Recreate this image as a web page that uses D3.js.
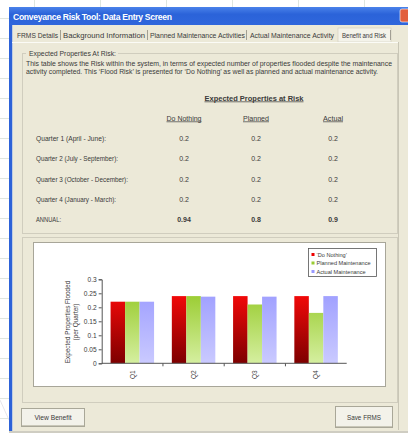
<!DOCTYPE html>
<html><head><meta charset="utf-8">
<script src="https://cdn.jsdelivr.net/npm/d3@7"></script>
<style>
body{margin:0;background:#fff}
svg{display:block}
text{font-family:"Liberation Sans","DejaVu Sans",sans-serif;fill:#3a3a3a}
</style></head>
<body><svg id="c" width="408" height="437"></svg>
<script>
// ---- data ----
const quarters = ["Q1", "Q2", "Q3", "Q4"];
const seriesNames = ["\u2018Do Nothing\u2019", "Planned Maintenance", "Actual Maintenance"];
const doNothing = [0.22, 0.24, 0.24, 0.24];
const plannedMaint = [0.22, 0.24, 0.21, 0.18];
const actualMaint = [0.22, 0.238, 0.238, 0.24];
const yTicks = [0, 0.05, 0.1, 0.15, 0.2, 0.25, 0.3];

const tabLabels = ["FRMS Details", "Background Information", "Planned Maintenance Activities", "Actual Maintenance Activity", "Benefit and Risk"];
const rowLabels = ["Quarter 1 (April - June):", "Quarter 2 (July - September):", "Quarter 3 (October - December):", "Quarter 4 (January - March):", "ANNUAL:"];
const colHeaders = ["Do Nothing", "Planned", "Actual"];
const tableDoNothing = ["0.2", "0.2", "0.2", "0.2", "0.94"];
const tablePlanned = ["0.2", "0.2", "0.2", "0.2", "0.8"];
const tableActual = ["0.2", "0.2", "0.2", "0.2", "0.9"];

const svg = d3.select("#c");
const beige = "#ece9d8";

// ---- spreadsheet behind the dialog ----
const grid = svg.append("g").attr("stroke", "#dfe6df").attr("stroke-width", 1);
[18, 38, 58, 78, 98, 118, 138, 158, 178, 198, 218, 238, 258, 278, 298, 318, 338, 358, 378, 398, 418].forEach(yy =>
  grid.append("line").attr("x1", 0).attr("x2", 9).attr("y1", yy + 0.5).attr("y2", yy + 0.5));
[34, 100, 166, 232, 298, 364].forEach(xx =>
  grid.append("line").attr("x1", xx + 0.5).attr("x2", xx + 0.5).attr("y1", 0).attr("y2", 7));
grid.append("line").attr("x1", 0).attr("x2", 9).attr("y1", 400).attr("y2", 420).attr("stroke", "#e6e6ea");

// ---- window frame ----
const tg = svg.append("defs").append("linearGradient").attr("id", "tb").attr("x1", 0).attr("x2", 0).attr("y1", 0).attr("y2", 1);
tg.append("stop").attr("offset", 0).attr("stop-color", "#4a82ea");
tg.append("stop").attr("offset", 0.4).attr("stop-color", "#2b63d9");
tg.append("stop").attr("offset", 1).attr("stop-color", "#2f66dc");
svg.append("rect").attr("x", 9).attr("y", 7).attr("width", 3.5).attr("height", 426).attr("fill", "#2d62d8");
svg.append("rect").attr("x", 9).attr("y", 7).attr("width", 399).attr("height", 18).attr("fill", "url(#tb)");
svg.append("rect").attr("x", 12.5).attr("y", 25).attr("width", 396).attr("height", 406).attr("fill", beige);
svg.append("rect").attr("x", 9).attr("y", 431).attr("width", 399).attr("height", 2).attr("fill", "#cfcdc2");
svg.append("text").attr("x", 13).attr("y", 19.5).attr("font-size", 8.6).attr("font-weight", "bold")
  .style("fill", "#fff").attr("textLength", 159).text("Conveyance Risk Tool:  Data Entry Screen");
svg.append("rect").attr("x", 400).attr("y", 9).attr("width", 10).attr("height", 13).attr("rx", 2).attr("fill", "#e2603e").attr("stroke", "#fff").attr("stroke-width", 0.6);

// ---- tab strip ----
const tabX = [17, 63, 150, 250, 342];
const tabW = [41, 82, 95, 84, 44];
const sepX = [60.5, 147.5, 246.5, 390.5];
svg.append("rect").attr("x", 338).attr("y", 28).attr("width", 53).attr("height", 14).attr("fill", "#f4f3ea").attr("stroke", "#cfccbd").attr("stroke-width", 0.6);
svg.append("g").selectAll("text").data(tabLabels).join("text")
  .attr("x", (d, i) => tabX[i]).attr("y", 37.5).attr("font-size", 6.6)
  .attr("textLength", (d, i) => tabW[i]).attr("lengthAdjust", "spacingAndGlyphs").text(d => d);
svg.append("g").selectAll("line").data(sepX).join("line")
  .attr("x1", d => d).attr("x2", d => d).attr("y1", 30).attr("y2", 40).attr("stroke", "#8f8d82").attr("stroke-width", 0.8);
svg.append("line").attr("x1", 12).attr("x2", 398).attr("y1", 42.5).attr("y2", 42.5).attr("stroke", "#fbfbf6");
svg.append("line").attr("x1", 398.5).attr("x2", 398.5).attr("y1", 42).attr("y2", 430).attr("stroke", "#c9c6b6");

// ---- group box with the table ----
svg.append("rect").attr("x", 22.5).attr("y", 53.5).attr("width", 375).attr("height", 180).attr("fill", "none").attr("stroke", "#d0cdbe");
svg.append("rect").attr("x", 26).attr("y", 50).attr("width", 92).attr("height", 7).attr("fill", beige);
svg.append("text").attr("x", 29).attr("y", 56).attr("font-size", 6.8).attr("textLength", 87).attr("lengthAdjust", "spacingAndGlyphs").text("Expected Properties At Risk:");
svg.append("text").attr("x", 26).attr("y", 65.5).attr("font-size", 6.8).attr("textLength", 366).attr("lengthAdjust", "spacingAndGlyphs")
  .text("This table shows the Risk within the system, in terms of expected number of properties flooded despite the maintenance");
svg.append("text").attr("x", 26).attr("y", 74).attr("font-size", 6.8).attr("textLength", 352).attr("lengthAdjust", "spacingAndGlyphs")
  .text("activity completed. This \u2018Flood Risk\u2019 is presented for \u2018Do Nothing\u2019 as well as planned and actual maintenance activity.");

svg.append("text").attr("x", 254).attr("y", 100.5).attr("text-anchor", "middle").attr("font-size", 7).attr("font-weight", "bold")
  .attr("text-decoration", "underline").attr("textLength", 99).attr("lengthAdjust", "spacingAndGlyphs").text("Expected Properties at Risk");
const colX = [184, 256, 333];
const colHW = [35, 26, 20];
svg.append("g").selectAll("text").data(colHeaders).join("text")
  .attr("x", (d, i) => colX[i]).attr("y", 120.5).attr("text-anchor", "middle").attr("font-size", 6.8)
  .attr("text-decoration", "underline").attr("textLength", (d, i) => colHW[i]).attr("lengthAdjust", "spacingAndGlyphs").text(d => d);
const rowY = [140.5, 161, 181.5, 201.5, 221.5];
const rowLW = [70, 82, 92, 80, 25];
svg.append("g").selectAll("text").data(rowLabels).join("text")
  .attr("x", 36).attr("y", (d, i) => rowY[i]).attr("font-size", 6.8)
  .attr("textLength", (d, i) => rowLW[i]).attr("lengthAdjust", "spacingAndGlyphs").text(d => d);
[tableDoNothing, tablePlanned, tableActual].forEach((col, c) => {
  svg.append("g").selectAll("text").data(col).join("text")
    .attr("x", colX[c]).attr("y", (d, i) => rowY[i]).attr("text-anchor", "middle").attr("font-size", 7)
    .attr("font-weight", (d, i) => i === 4 ? "bold" : "normal").text(d => d);
});

// ---- chart frame ----
svg.append("rect").attr("x", 22.5).attr("y", 237.5).attr("width", 375).attr("height", 165).attr("fill", "none").attr("stroke", "#d0cdbe");
svg.append("rect").attr("x", 33.5).attr("y", 242.5).attr("width", 352).attr("height", 144).attr("fill", "#fff").attr("stroke", "#a8a699");

// ---- bar chart ----
const x0 = d3.scaleBand().domain(quarters).range([101.7, 346.7]).paddingInner(0.29).paddingOuter(0.145);
const x1 = d3.scaleBand().domain(d3.range(3)).range([0, x0.bandwidth()]);
const y = d3.scaleLinear().domain([0, 0.3]).range([363.3, 279.3]);

const defs = svg.append("defs");
const grads = [["#ff0a0a", "#7d0000"], ["#95c928", "#d5efa0"], ["#9c9cff", "#cacaff"]];
grads.forEach((g, i) => {
  const lgr = defs.append("linearGradient").attr("id", "g" + i).attr("x1", 0).attr("x2", 0)
    .attr("gradientUnits", "userSpaceOnUse").attr("y1", y(0.3)).attr("y2", y(0));
  lgr.append("stop").attr("offset", 0.1).attr("stop-color", g[0]);
  lgr.append("stop").attr("offset", 1).attr("stop-color", g[1]);
});

const series = [doNothing, plannedMaint, actualMaint];
const bars = svg.append("g");
series.forEach((vals, s) => {
  bars.append("g").attr("fill", "url(#g" + s + ")").selectAll("rect").data(vals).join("rect")
    .attr("x", (d, i) => x0(quarters[i]) + x1(s))
    .attr("width", x1.bandwidth())
    .attr("y", d => y(d))
    .attr("height", d => y(0) - y(d));
});

// y axis
const yAxis = svg.append("g").attr("transform", "translate(101.7,0)")
  .call(d3.axisLeft(y).tickValues(yTicks).tickSize(3).tickFormat(d3.format("~g")));
yAxis.select(".domain").attr("stroke", "#555");
yAxis.selectAll(".tick line").attr("stroke", "#555");
yAxis.selectAll(".tick text").attr("font-size", 6.6).attr("x", -5).style("fill", "#3a3a3a").attr("font-family", null);

// x axis: ticks between categories
const xAxis = svg.append("g").attr("transform", "translate(0,363.3)");
xAxis.append("line").attr("x1", 101.7).attr("x2", 346.7).attr("stroke", "#555");
xAxis.selectAll("line.t").data(quarters.slice(1)).join("line").attr("class", "t")
  .attr("x1", d => x0(d) - x0.step() * x0.paddingInner() / 2).attr("x2", d => x0(d) - x0.step() * x0.paddingInner() / 2)
  .attr("y1", 0).attr("y2", 3).attr("stroke", "#555");
xAxis.selectAll("text").data(quarters).join("text")
  .attr("transform", d => `translate(${x0(d) + x0.bandwidth() / 2 + 2.3},7) rotate(-90)`)
  .attr("text-anchor", "end").attr("font-size", 6.6).text(d => d);

// y axis title
const yt = svg.append("text").attr("transform", "translate(70,322) rotate(-90)").attr("text-anchor", "middle").attr("font-size", 6.4);
yt.append("tspan").attr("x", 0).attr("dy", 0).text("Expected Properties Flooded");
yt.append("tspan").attr("x", 0).attr("dy", 8).text("(per Quarter)");

// legend
const lg = svg.append("g").attr("transform", "translate(308.5,248.5)");
lg.append("rect").attr("width", 68).attr("height", 28).attr("fill", "#fff").attr("stroke", "#555").attr("stroke-width", 0.8);
const legColors = ["#ee0000", "#99cc33", "#9999ff"];
seriesNames.forEach((n, i) => {
  lg.append("rect").attr("x", 3).attr("y", 4.5 + i * 8.5).attr("width", 3).attr("height", 3).attr("fill", legColors[i]);
  lg.append("text").attr("x", 8).attr("y", 8 + i * 8.5).attr("font-size", 5.6).text(n);
});

// ---- buttons ----
function button(x, yy, w, h, label, lw) {
  const b = svg.append("g");
  b.append("rect").attr("x", x + 0.5).attr("y", yy + 0.5).attr("width", w).attr("height", h).attr("fill", "#f3f2ea").attr("stroke", "#a9a798");
  b.append("line").attr("x1", x + 1).attr("x2", x + w).attr("y1", yy + h - 0.5).attr("y2", yy + h - 0.5).attr("stroke", "#c9c7b8");
  b.append("text").attr("x", x + w / 2 + 0.5).attr("y", yy + h / 2 + 3).attr("text-anchor", "middle").attr("font-size", 6.6)
    .attr("textLength", lw).attr("lengthAdjust", "spacingAndGlyphs").text(label);
}
button(21, 408, 63, 18, "View Benefit", 37);
button(335, 406, 57, 21, "Save FRMS", 34);
</script></body></html>
